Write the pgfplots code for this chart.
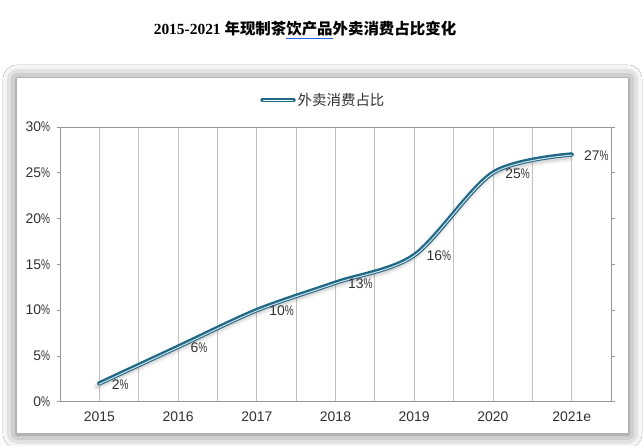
\documentclass[border=0pt]{standalone}
\usepackage{fontspec}
\usepackage{graphicx}
\usepackage{pgfplots}
\pgfplotsset{compat=1.18}
\usetikzlibrary{shadows.blur}
\setmainfont{Liberation Sans}
\newfontfamily\serifbf{Liberation Serif}
\newfontfamily\cjk{Noto Sans CJK SC}
\definecolor{lineteal}{RGB}{31,104,134}
\definecolor{txt}{RGB}{50,50,50}
\definecolor{gridc}{RGB}{192,192,192}
\definecolor{axc}{RGB}{150,150,150}
\definecolor{ulblue}{RGB}{40,100,220}
\newcommand{\pct}{\scalebox{0.72}[1]{\%}}
\begin{document}
\begin{tikzpicture}
\useasboundingbox (0,0) rectangle (643bp,446bp);
\fill[white] (0,0) rectangle (643bp,446bp);
% frame with shadow
\fill[white, blur shadow={shadow xshift=0bp, shadow yshift=-1bp, shadow blur radius=14bp, shadow blur extra rounding=0bp, shadow opacity=60, shadow scale=1.0}] (17bp,13bp) rectangle (628bp,368bp);
% title
\node[text=black] at (305bp,416bp) {\fontsize{15.5}{18}\selectfont{\serifbf\bfseries 2015-2021 }{\cjk\bfseries 年现制茶\textcolor{ulblue}{\underline{\textcolor{black}{饮产品}}}外卖消费占比变化}};
\begin{axis}[
  at={(60bp,44.3bp)}, anchor=south west,
  scale only axis, width=551bp, height=274.7bp,
  xmin=-0.5, xmax=6.5, ymin=0, ymax=30,
  /pgf/number format/assume math mode=true,
  xtick={0,1,2,3,4,5,6},
  xticklabels={2015,2016,2017,2018,2019,2020,2021e},
  minor xtick={0.5,1.5,2.5,3.5,4.5,5.5},
  xmajorgrids, xminorgrids,
  major grid style={gridc, line width=0.8bp},
  minor grid style={gridc, line width=0.8bp},
  ytick={0,5,10,15,20,25,30},
  yticklabels={0\pct,5\pct,10\pct,15\pct,20\pct,25\pct,30\pct},
  tick align=outside,
  major tick length=3.5bp,
  xtick style={draw=none},
  minor tick length=0pt,
  ytick style={draw=axc, line width=0.8bp},
  axis line style={draw=axc, line width=0.8bp},
  tick label style={font=\fontsize{14}{16}\selectfont, text=txt},
  yticklabel style={xshift=-3bp},
  xticklabel style={yshift=-3bp},
  legend style={at={(0.478,1.098)}, anchor=center, draw=none, fill=none,
    font=\cjk\fontsize{14.5}{16}\selectfont, text=txt, inner sep=0pt},
  legend cell align=left,
  legend image code/.code={
    \draw[lineteal, line width=4.4bp, line cap=round] (0bp,0bp) -- (31bp,0bp);
    \draw[white, line width=1bp, line cap=round] (1bp,-0.3bp) -- (30bp,-0.3bp);
  },
]
% shadow
\addplot[forget plot, smooth, gray, opacity=0.12, line width=8bp, line cap=round, xshift=-2bp, yshift=-3bp]
  coordinates {(0,2)(1,6)(2,10)(3,13)(4,16)(5,25)(6,27)};
\addplot[forget plot, smooth, gray, opacity=0.18, line width=4bp, line cap=round, xshift=-2bp, yshift=-3bp]
  coordinates {(0,2)(1,6)(2,10)(3,13)(4,16)(5,25)(6,27)};
% main line
\addplot[smooth, lineteal, line width=4.4bp, line cap=round]
  coordinates {(0,2)(1,6)(2,10)(3,13)(4,16)(5,25)(6,27)};
\addlegendentry{外卖消费占比}
\addplot[forget plot, smooth, white!80!lineteal, line width=1bp, line cap=round, yshift=-0.7bp]
  coordinates {(0,2)(1,6)(2,10)(3,13)(4,16)(5,25)(6,27)};
% data labels
\addplot[forget plot, draw=none, mark=none, point meta=y,
  nodes near coords={\pgfmathprintnumber{\pgfplotspointmeta}\pct},
  every node near coord/.append style={anchor=west, xshift=9bp, yshift=-1bp,
    font=\fontsize{14}{16}\selectfont, text=txt}]
  coordinates {(0,2)(1,6)(2,10)(3,13)(4,16)(5,25)(6,27)};
\end{axis}
\end{tikzpicture}
\end{document}
